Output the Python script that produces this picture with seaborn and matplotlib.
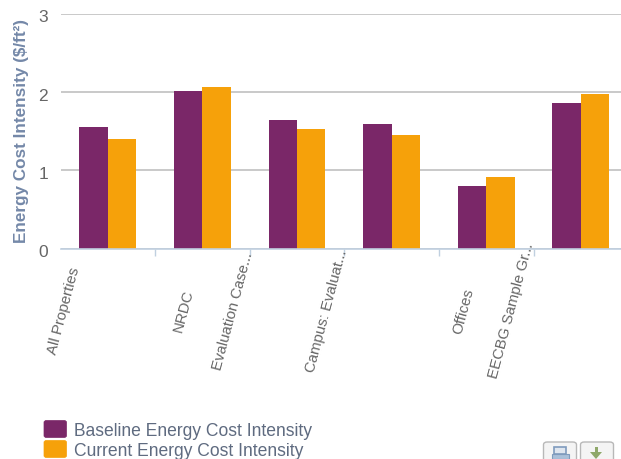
import pandas as pd
import matplotlib
matplotlib.use('Agg')
import matplotlib.pyplot as plt
import matplotlib.transforms as mtrans
import seaborn as sns
from matplotlib.patches import FancyBboxPatch, Rectangle, Polygon

# values
categories = ['All Properties', 'NRDC', 'Evaluation Case...', 'Campus: Evaluat...', 'Offices', 'EECBG Sample Gr...']
baseline = [1.55, 2.01, 1.64, 1.59, 0.80, 1.86]
current = [1.40, 2.07, 1.53, 1.45, 0.91, 1.98]
series_names = ['Baseline Energy Cost Intensity', 'Current Energy Cost Intensity']
y_ticks = [0, 1, 2, 3]

W, H = 621, 459
PURPLE = '#7a2768'
ORANGE = '#f6a10a'
TEXT_GREY = '#666666'
LEGEND_TEXT = '#5f6b80'

sns.set_theme(style='white')
plt.rcParams['font.family'] = ['Liberation Sans', 'DejaVu Sans']

df = pd.DataFrame({
    'category': categories * 2,
    'series': [series_names[0]] * len(categories) + [series_names[1]] * len(categories),
    'value': baseline + current,
})

fig = plt.figure(figsize=(W / 100, H / 100), dpi=100)
ax = fig.add_axes([60.5 / W, 1 - 248.5 / H, (W - 60.5) / W, (248.5 - 14) / H])

sns.barplot(data=df, x='category', y='value', hue='series', order=categories,
            palette=[PURPLE, ORANGE], width=0.6, gap=0, saturation=1, legend=False,
            edgecolor='none', linewidth=0, ax=ax)

ax.set_xlim(-0.5, -0.5 + (W - 60.5) / 94.6)
ax.set_ylim(0, 3)
ax.set_xlabel('')

# grid behind the bars, spines off except the bottom
ax.set_axisbelow(True)
ax.set_yticks(y_ticks)
ax.yaxis.grid(True, color='#c0c0c0', linewidth=1.2)
ax.xaxis.grid(False)
for s in ['top', 'right', 'left']:
    ax.spines[s].set_visible(False)
ax.spines['bottom'].set_color('#c0d0e0')
ax.spines['bottom'].set_linewidth(1.2)

ax.tick_params(axis='y', length=0, pad=9, labelsize=12.5, labelcolor=TEXT_GREY)
# the reference tick labels sit a little under their grid lines
for lab in ax.get_yticklabels():
    lab.set_transform(lab.get_transform() + mtrans.ScaledTranslation(0, -2.5 / 100, fig.dpi_scale_trans))
ax.set_ylabel('Energy Cost Intensity ($/ft²)', fontsize=12.3, fontweight='bold', color='#7488a8')
ax.yaxis.set_label_coords((29.5 - 60.5) / (W - 60.5), 0.5)

# ticks sit between the categories, labels are placed on their own
ax.set_xticks([i + 0.5 for i in range(len(categories) - 1)])
ax.set_xticklabels([])
ax.tick_params(axis='x', length=5, width=1, color='#c0d0e0', bottom=True)

label_shift = [-44, -19, -64, -65, -23, -69]
for i, (name, dx) in enumerate(zip(categories, label_shift)):
    ax.annotate(name, xy=(i, 0), xycoords=('data', 'axes fraction'),
                xytext=(dx * 0.72, -(311 - 248.5) * 0.72), textcoords='offset points',
                rotation=75, ha='center', va='center', fontsize=10.8, color=TEXT_GREY,
                rotation_mode='anchor', annotation_clip=False)

# legend drawn by hand so the swatches land in the right spot
for (y0, y_text, col, name) in [(420, 431.5, PURPLE, series_names[0]), (440, 452, ORANGE, series_names[1])]:
    fig.patches.append(FancyBboxPatch((44 / W, 1 - (y0 + 17.5) / H), 22.5 / W, 17 / H,
                                      boxstyle='round,pad=0,rounding_size=0.004',
                                      transform=fig.transFigure, facecolor=col, edgecolor=col, linewidth=0.5))
    fig.text(74 / W, 1 - y_text / H, name, fontsize=12.65, color=LEGEND_TEXT, va='center', ha='left')

# export buttons bottom right
for x0 in [543.5, 580.5]:
    fig.patches.append(FancyBboxPatch((x0 / W, 1 - 470 / H), 33 / W, 28 / H,
                                      boxstyle='round,pad=0,rounding_size=0.006',
                                      transform=fig.transFigure, facecolor='#f4f4f4',
                                      edgecolor='#b8b8b8', linewidth=1))
fig.patches.append(Rectangle((554 / W, 1 - 454 / H), 12 / W, 7 / H, transform=fig.transFigure,
                             facecolor='#dfe6ef', edgecolor='#7f9bbd', linewidth=1.2))
fig.patches.append(Rectangle((552 / W, 1 - 459 / H), 17 / W, 5 / H, transform=fig.transFigure,
                             facecolor='#a9c0d9', edgecolor='#7f9bbd', linewidth=0.8))
fig.patches.append(Polygon([(590 / W, 1 - 452 / H), (602 / W, 1 - 452 / H), (596 / W, 1 - 459 / H)],
                           transform=fig.transFigure, facecolor='#8fa86a', edgecolor='none'))
fig.patches.append(Rectangle((594.5 / W, 1 - 452 / H), 3 / W, 5 / H, transform=fig.transFigure,
                             facecolor='#8fa86a', edgecolor='none'))

fig.savefig('out.png', dpi=100)
